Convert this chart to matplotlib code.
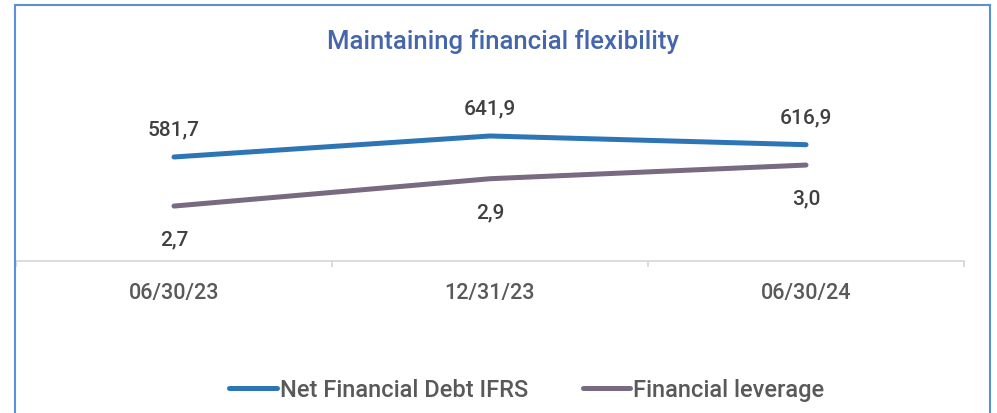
import matplotlib
matplotlib.use("Agg")
import matplotlib.pyplot as plt
from matplotlib.patches import Rectangle
from matplotlib.lines import Line2D

plt.rcParams['font.family'] = ['Roboto', 'DejaVu Sans']
plt.rcParams['font.weight'] = 'medium'

categories = ["06/30/23", "12/31/23", "06/30/24"]
net_debt = [581.7, 641.9, 616.9]
leverage = [2.7, 2.9, 3.0]
series_names = ["Net Financial Debt IFRS", "Financial leverage"]
title = "Maintaining financial flexibility"

blue = '#2e75b6'
purple = '#786a80'
label_col = '#404040'
tick_col = '#595959'
grid_col = '#d9d9d9'

W, H = 997, 414
fig = plt.figure(figsize=(W / 100, H / 100), dpi=100)

# outer border
fig.patches.append(Rectangle((15 / W, -0.05), (990 - 15) / W, 1.05 - 6 / H,
                             transform=fig.transFigure, fill=False,
                             edgecolor='#5b8fd6', linewidth=1.5))

ax_left, ax_right = 16 / W, 964 / W
ax_bottom = (H - 262) / H
ax_top = (H - 60) / H
ax = fig.add_axes([ax_left, ax_bottom, ax_right - ax_left, ax_top - ax_bottom])
ax2 = ax.twinx()

x = list(range(len(categories)))
ax.plot(x, net_debt, color=blue, lw=3.6, solid_capstyle='round', zorder=3)
ax2.plot(x, leverage, color=purple, lw=3.6, solid_capstyle='round', zorder=3)

ax.set_xlim(-0.5, len(categories) - 0.5)
ax.set_ylim(283.5, 862.6)
ax2.set_ylim(2.298, 3.776)

def fmt(v):
    return f"{v:.1f}".replace('.', ',')

for xi, v in zip(x, net_debt):
    ax.annotate(fmt(v), (xi, v), xytext=(0, 20), textcoords='offset points',
                ha='center', va='center', fontsize=15, color=label_col,
                fontweight='medium')
for xi, v in zip(x, leverage):
    ax2.annotate(fmt(v), (xi, v), xytext=(0, -23.7), textcoords='offset points',
                 ha='center', va='center', fontsize=15, color=label_col,
                 fontweight='medium')

for a in (ax, ax2):
    for s in ('top', 'right', 'left'):
        a.spines[s].set_visible(False)
    a.set_yticks([])
ax2.spines['bottom'].set_visible(False)
ax.spines['bottom'].set_color(grid_col)
ax.spines['bottom'].set_linewidth(1.3)

ax.set_xticks(x)
ax.set_xticklabels(categories, fontsize=15.5, color=tick_col, fontweight='medium')
ax.tick_params(axis='x', which='major', length=0, pad=15)
ax.set_xticks([i - 0.5 for i in range(len(categories) + 1)], minor=True)
ax.tick_params(axis='x', which='minor', length=4.5, width=1.3, color=grid_col)

fig.text(503 / W, 1 - 42 / H, title, ha='center', va='center',
         fontsize=18.5, color='#4565ad', fontweight='medium')

handles = [Line2D([], [], color=blue, lw=3.6, solid_capstyle='round'),
           Line2D([], [], color=purple, lw=3.6, solid_capstyle='round')]
fig.legend(handles, series_names, loc='center', bbox_to_anchor=(527 / W, 1 - 391 / H),
           ncol=2, frameon=False, prop={'size': 17, 'weight': 'medium'},
           handlelength=2.0, handletextpad=0.15,
           columnspacing=2.3, labelcolor=tick_col)

fig.savefig('out.png', dpi=100)
